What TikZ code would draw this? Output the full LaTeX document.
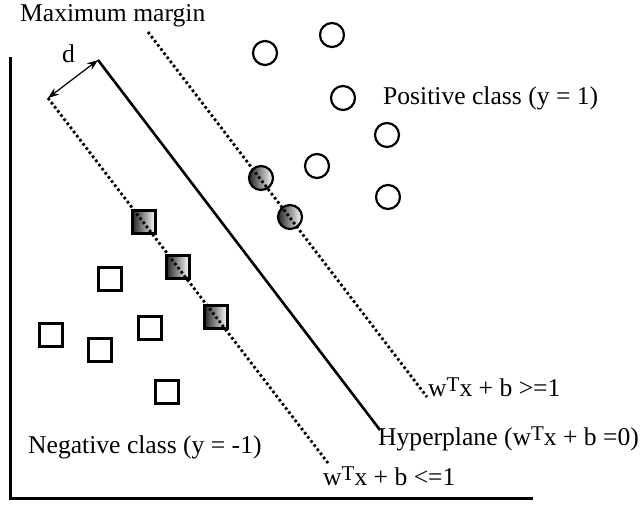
\documentclass[tikz,border=0pt]{standalone}
\usepackage{fontspec}
\setmainfont{Liberation Serif}
\usetikzlibrary{arrows.meta}
\newcommand{\wT}{w\raisebox{4.5pt}{\fontsize{21}{21}\selectfont T}}
\begin{document}
\begin{tikzpicture}[x=1pt,y=1pt,
  lbl/.style={anchor=base west,inner sep=0pt,font=\fontsize{25.6}{30}\selectfont},
  opencirc/.style={circle,draw,line width=2.2pt,minimum size=24pt,inner sep=0pt},
  shadecirc/.style={opencirc,left color=black!85,right color=white},
  opensq/.style={rectangle,draw,line width=2.2pt,minimum size=23pt,inner sep=0pt},
  shadesq/.style={opensq,left color=black!85,right color=white},
  dotline/.style={line width=2.8pt,dash pattern=on 2.6pt off 2.6pt},
]
\useasboundingbox (0,0) rectangle (640,504);
% axes
\coordinate (ytop) at (10,447);
\coordinate (orig) at (10,6);
\coordinate (xend) at (533,6);
\draw[line width=3pt] (ytop) -- (orig) -- (xend);
% lines
\coordinate (h1) at (98,444);
\coordinate (h2) at (380,74);
\coordinate (l1) at (48,406);
\coordinate (l2) at (328,41);
\coordinate (u1) at (148,472);
\coordinate (u2) at (427,107);
\draw[line width=2.6pt] (h1) -- (h2);
\draw[line width=1.2pt,{Stealth[length=11pt,width=8pt]}-{Stealth[length=11pt,width=8pt]}] (l1) -- (h1);
% positive
\node[opencirc] (c1) at (265,451) {};
\node[opencirc] (c2) at (332,469) {};
\node[opencirc] (c3) at (343,406) {};
\node[opencirc] (c4) at (387,369) {};
\node[opencirc] (c5) at (317,338) {};
\node[opencirc] (c6) at (388,307) {};
\node[shadecirc] (s1) at (261,326) {};
\node[shadecirc] (s2) at (290,287) {};
\draw[dotline] (u1) -- (u2);
% negative
\node[opensq] (q1) at (110,225) {};
\node[opensq] (q2) at (51,169) {};
\node[opensq] (q3) at (100,154) {};
\node[opensq] (q4) at (150,176) {};
\node[opensq] (q5) at (167,112) {};
\node[shadesq] (t1) at (144,282) {};
\node[shadesq] (t2) at (178,237) {};
\node[shadesq] (t3) at (216,187) {};
\draw[dotline] (l1) -- (l2);
% labels
\node[lbl] (mm) at (20,482) {Maximum margin};
\node[lbl] (dl) at (62,441) {d};
\node[lbl] (pc) at (383,399) {Positive class (y = 1)};
\node[lbl] (nc) at (28,51) {Negative class (y = -1)};
\node[lbl] (ge) at (428,108) {\wT x + b >=1};
\node[lbl] (hp) at (378,59) {Hyperplane (\wT x + b =0)};
\node[lbl] (le) at (323,19) {\wT x + b <=1};
\end{tikzpicture}
\end{document}
